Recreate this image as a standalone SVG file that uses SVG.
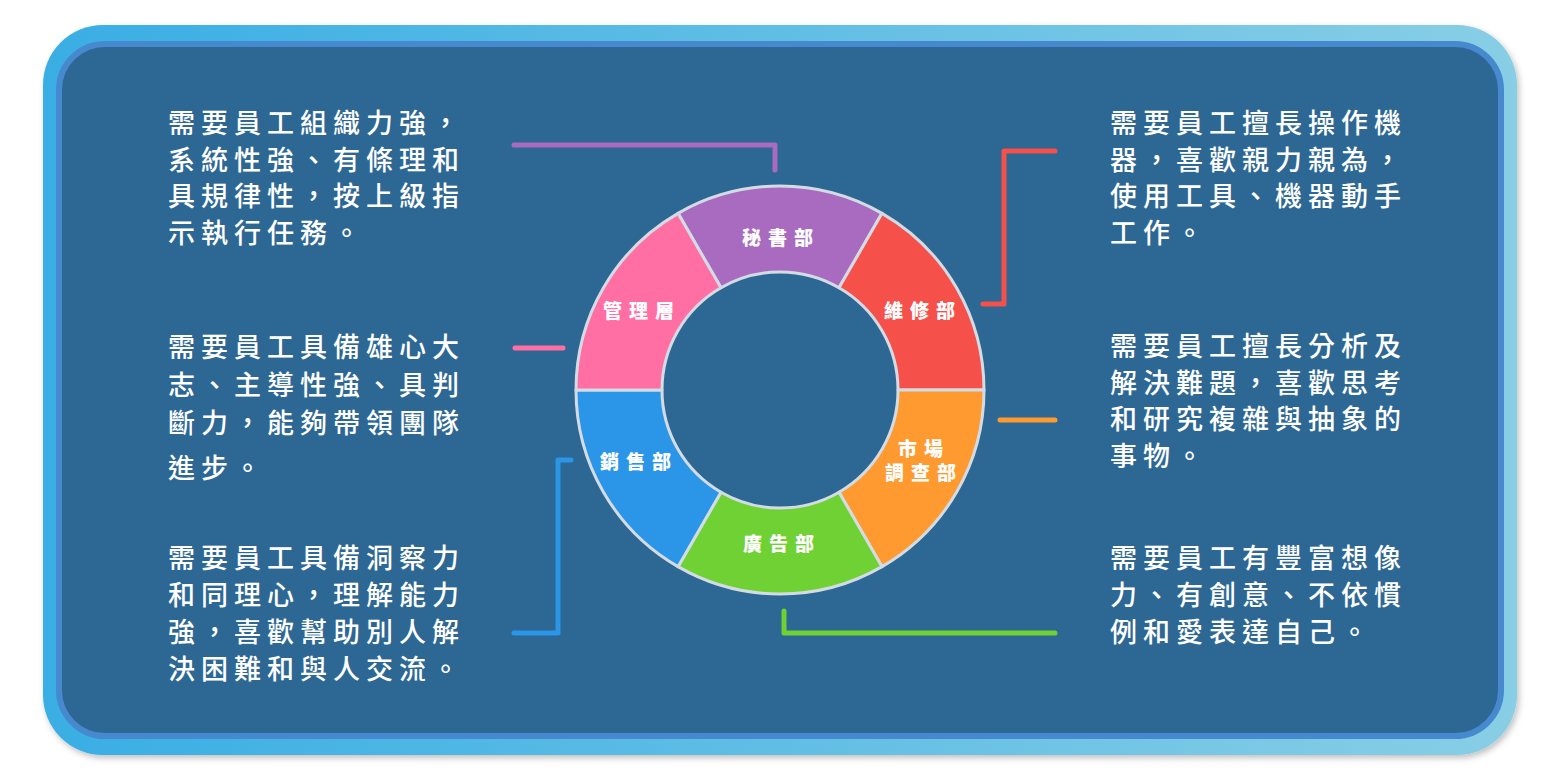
<svg xmlns="http://www.w3.org/2000/svg" width="1561" height="781" viewBox="0 0 1561 781">
<defs>
<linearGradient id="bg" x1="0" y1="0" x2="1" y2="0">
<stop offset="0" stop-color="#39AEE4"/>
<stop offset="1" stop-color="#88CEE5"/>
</linearGradient>
<filter id="sh" x="-5%" y="-5%" width="110%" height="115%">
<feDropShadow dx="2" dy="3" stdDeviation="3" flood-color="#000" flood-opacity="0.25"/>
</filter>
<style>
.desc{font-family:"Noto Sans CJK TC","Noto Sans CJK SC",sans-serif;font-size:27px;font-weight:500;letter-spacing:6px;fill:#FFFFFF;}
.lab{font-family:"Noto Sans CJK TC","Noto Sans CJK SC",sans-serif;font-size:19px;font-weight:900;letter-spacing:7px;fill:#FFFFFF;}
.seg{stroke:#D3DCE4;stroke-width:3;stroke-linejoin:round;}
.con{fill:none;stroke-width:5;stroke-linecap:round;stroke-linejoin:round;}
</style>
</defs>
<rect x="0" y="0" width="1561" height="781" fill="#FFFFFF"/>
<rect x="43" y="25" width="1474" height="730" rx="60" fill="url(#bg)" filter="url(#sh)"/>
<rect x="59" y="44" width="1442" height="692" rx="46" fill="#2D6794" stroke="#4689CF" stroke-width="6"/>

<g id="connectors">
<path class="con" stroke="#A86BC0" d="M514,145 L775,145 L775,170"/>
<path class="con" stroke="#F5504A" d="M1055,151 L1004,151 L1004,304 L983,304"/>
<path class="con" stroke="#FF6FA3" d="M515,348 L563,348"/>
<path class="con" stroke="#FF9A30" d="M1000,420 L1055,420"/>
<path class="con" stroke="#2B95E8" d="M514,633 L558,633 L558,460 L571,460"/>
<path class="con" stroke="#6FD133" d="M784,611 L784,633 L1055,633"/>
</g>

<g id="node-mishu">
<path class="seg" fill="#A86BC0" d="M678,213.33 A204,204 0 0 1 882,213.33 L839,287.81 A118,118 0 0 0 721,287.81 Z"/>
<text class="lab" x="742" y="245">秘書部</text>
</g>
<g id="node-weixiu">
<path class="seg" fill="#F5504A" d="M882,213.33 A204,204 0 0 1 984,390 L898,390 A118,118 0 0 0 839,287.81 Z"/>
<text class="lab" x="884" y="318">維修部</text>
</g>
<g id="node-shichang">
<path class="seg" fill="#FF9A30" d="M984,390 A204,204 0 0 1 882,566.67 L839,492.19 A118,118 0 0 0 898,390 Z"/>
<text class="lab" x="898" y="456">市場</text>
<text class="lab" x="885" y="480">調查部</text>
</g>
<g id="node-guanggao">
<path class="seg" fill="#6FD133" d="M882,566.67 A204,204 0 0 1 678,566.67 L721,492.19 A118,118 0 0 0 839,492.19 Z"/>
<text class="lab" x="743" y="551">廣告部</text>
</g>
<g id="node-xiaoshou">
<path class="seg" fill="#2B95E8" d="M678,566.67 A204,204 0 0 1 576,390 L662,390 A118,118 0 0 0 721,492.19 Z"/>
<text class="lab" x="600" y="469">銷售部</text>
</g>
<g id="node-guanli">
<path class="seg" fill="#FF6FA3" d="M576,390 A204,204 0 0 1 678,213.33 L721,287.81 A118,118 0 0 0 662,390 Z"/>
<text class="lab" x="603" y="318">管理層</text>
</g>

<g id="text-mishu">
<text class="desc" x="168" y="133">需要員工組織力強，</text>
<text class="desc" x="168" y="169.5">系統性強、有條理和</text>
<text class="desc" x="168" y="206">具規律性，按上級指</text>
<text class="desc" x="168" y="242.5">示執行任務。</text>
</g>
<g id="text-guanli">
<text class="desc" x="168" y="357">需要員工具備雄心大</text>
<text class="desc" x="168" y="395">志、主導性強、具判</text>
<text class="desc" x="168" y="433">斷力，能夠帶領團隊</text>
<text class="desc" x="168" y="478">進步。</text>
</g>
<g id="text-xiaoshou">
<text class="desc" x="168" y="568">需要員工具備洞察力</text>
<text class="desc" x="168" y="605">和同理心，理解能力</text>
<text class="desc" x="168" y="642">強，喜歡幫助別人解</text>
<text class="desc" x="168" y="679">決困難和與人交流。</text>
</g>
<g id="text-weixiu">
<text class="desc" x="1110" y="133">需要員工擅長操作機</text>
<text class="desc" x="1110" y="169.5">器，喜歡親力親為，</text>
<text class="desc" x="1110" y="206">使用工具、機器動手</text>
<text class="desc" x="1110" y="242.5">工作。</text>
</g>
<g id="text-shichang">
<text class="desc" x="1110" y="356">需要員工擅長分析及</text>
<text class="desc" x="1110" y="392.5">解決難題，喜歡思考</text>
<text class="desc" x="1110" y="429">和研究複雜與抽象的</text>
<text class="desc" x="1110" y="465.5">事物。</text>
</g>
<g id="text-guanggao">
<text class="desc" x="1110" y="568">需要員工有豐富想像</text>
<text class="desc" x="1110" y="605">力、有創意、不依慣</text>
<text class="desc" x="1110" y="642">例和愛表達自己。</text>
</g>
</svg>
